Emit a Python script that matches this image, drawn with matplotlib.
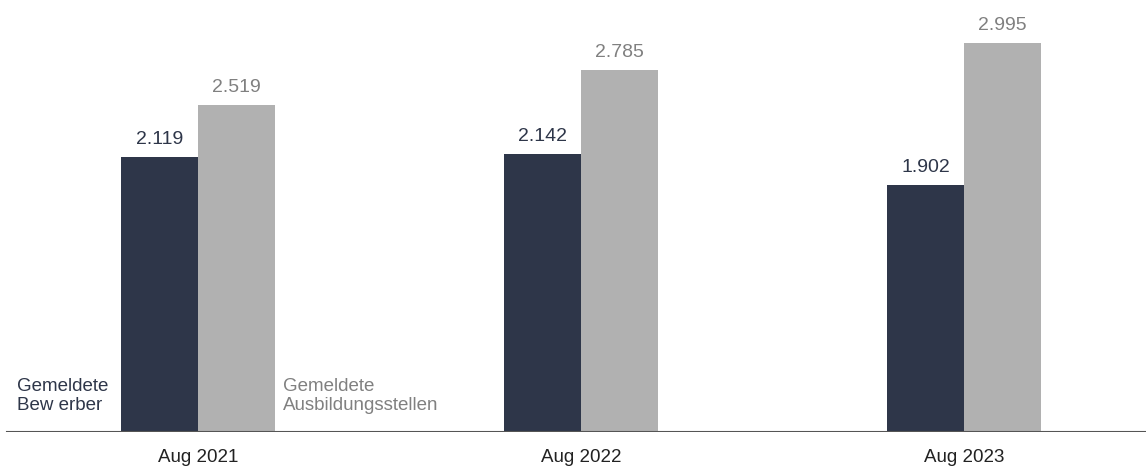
import matplotlib.pyplot as plt
import numpy as np

plt.rcParams['font.family'] = ['Liberation Sans', 'DejaVu Sans']

months = ['Aug 2021', 'Aug 2022', 'Aug 2023']
bewerber = [2.119, 2.142, 1.902]
stellen = [2.519, 2.785, 2.995]
bewerber_labels = ['2.119', '2.142', '1.902']
stellen_labels = ['2.519', '2.785', '2.995']

dark = '#2E3649'
grey = '#B1B1B1'
grey_text = '#808080'

fig = plt.figure(figsize=(11.46, 4.68), dpi=100)
ax = fig.add_axes([0, 0.0759, 1, 0.9241])

x = np.arange(len(months))
w = 0.201
ax.bar(x - w / 2, bewerber, w, color=dark)
ax.bar(x + w / 2, stellen, w, color=grey)

for xi, v, lab in zip(x, bewerber, bewerber_labels):
    ax.annotate(lab, (xi - w / 2, v), xytext=(0, 9.5), textcoords='offset points',
                ha='center', va='baseline', fontsize=14, color=dark)
for xi, v, lab in zip(x, stellen, stellen_labels):
    ax.annotate(lab, (xi + w / 2, v), xytext=(0, 9.5), textcoords='offset points',
                ha='center', va='baseline', fontsize=14, color=grey_text)

ax.text(-0.4726, 0.281, 'Gemeldete\nBew erber', fontsize=13.5, color=dark,
        ha='left', va='center', linespacing=1.17)
ax.text(0.222, 0.281, 'Gemeldete\nAusbildungsstellen', fontsize=13.5, color=grey_text,
        ha='left', va='center', linespacing=1.17)

ax.axhline(0, xmin=7 / 1146, xmax=1, color='#555555', lw=1.5, zorder=3)

ax.set_xlim(-198 / 383, (1146 - 198) / 383)
ax.set_ylim(0, 3.327)
ax.set_xticks(x)
ax.set_xticklabels(months, fontsize=13.5, color='#222222')
ax.tick_params(axis='x', length=0, pad=12)
ax.set_yticks([])
for s in ax.spines.values():
    s.set_visible(False)

plt.savefig('out.png', dpi=100)
plt.close()
